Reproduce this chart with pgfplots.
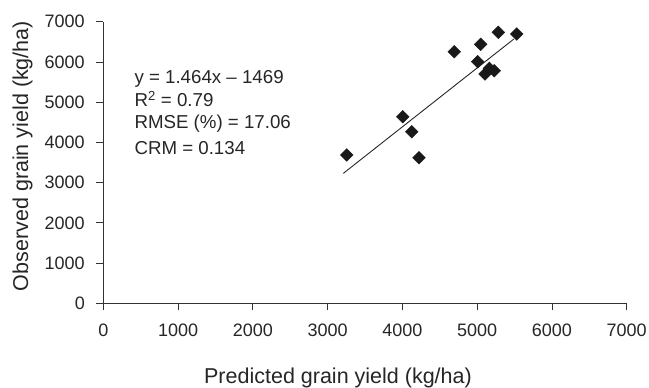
\documentclass[border=0pt]{standalone}
\usepackage{pgfplots}
\pgfplotsset{compat=1.18}
\usepackage{fontspec}
\setmainfont{Liberation Sans}
\begin{document}
\begin{tikzpicture}[x=1pt,y=1pt]
\useasboundingbox (0,0) rectangle (649,-388);
\begin{axis}[
  at={(103.3pt,-303.3pt)}, anchor=south west,
  width=523.4pt, height=281.6pt, scale only axis,
  xmin=0, xmax=7000, ymin=0, ymax=7000,
  xtick={0,1000,...,7000}, ytick={0,1000,...,7000},
  axis lines=left, axis line style={-, line width=0.8pt, black!80},
  tick style={line width=0.8pt, black!80},
  tick align=outside, major tick length=7pt,
  /pgf/number format/assume math mode=true,
  /pgf/number format/set thousands separator={},
  ticklabel style={font=\fontsize{18}{20}\selectfont, text=black!85},
  xticklabel style={yshift=-10pt},
  yticklabel style={xshift=-8pt},
  clip=false,
]
\addplot[only marks, mark=square*, mark size=4.5pt, mark options={rotate=45, fill=black!90, draw=black!90}]
coordinates {
(3255,3686) (4004,4638) (4125,4266) (4222,3619) (4694,6254) (5007,6006)
(5047,6438) (5283,6736) (5529,6694) (5105,5699) (5163,5841) (5229,5782)
};
\addplot[black!85, line width=0.9pt] coordinates {(3210,3230) (5490,6568)};
\end{axis}
\begin{scope}[every node/.style={font=\fontsize{18.7}{20}\selectfont, text=black!85, inner sep=0pt}]
\node[anchor=base west] at (134.3,-83.3) {y = 1.464x – 1469};
\node[anchor=base west] at (134.3,-106.7) {R\textsuperscript{2} = 0.79};
\node[anchor=base west] at (134.3,-128.3) {RMSE (\%) = 17.06};
\node[anchor=base west] at (134.3,-154) {CRM = 0.134};
\end{scope}
\node[anchor=base, inner sep=0pt, font=\fontsize{21.5}{24}\selectfont, text=black!85] at (338,-383) {Predicted grain yield (kg/ha)};
\node[anchor=base, rotate=90, inner sep=0pt, font=\fontsize{21.5}{24}\selectfont, text=black!85] at (28,-156) {Observed grain yield (kg/ha)};
\end{tikzpicture}
\end{document}
